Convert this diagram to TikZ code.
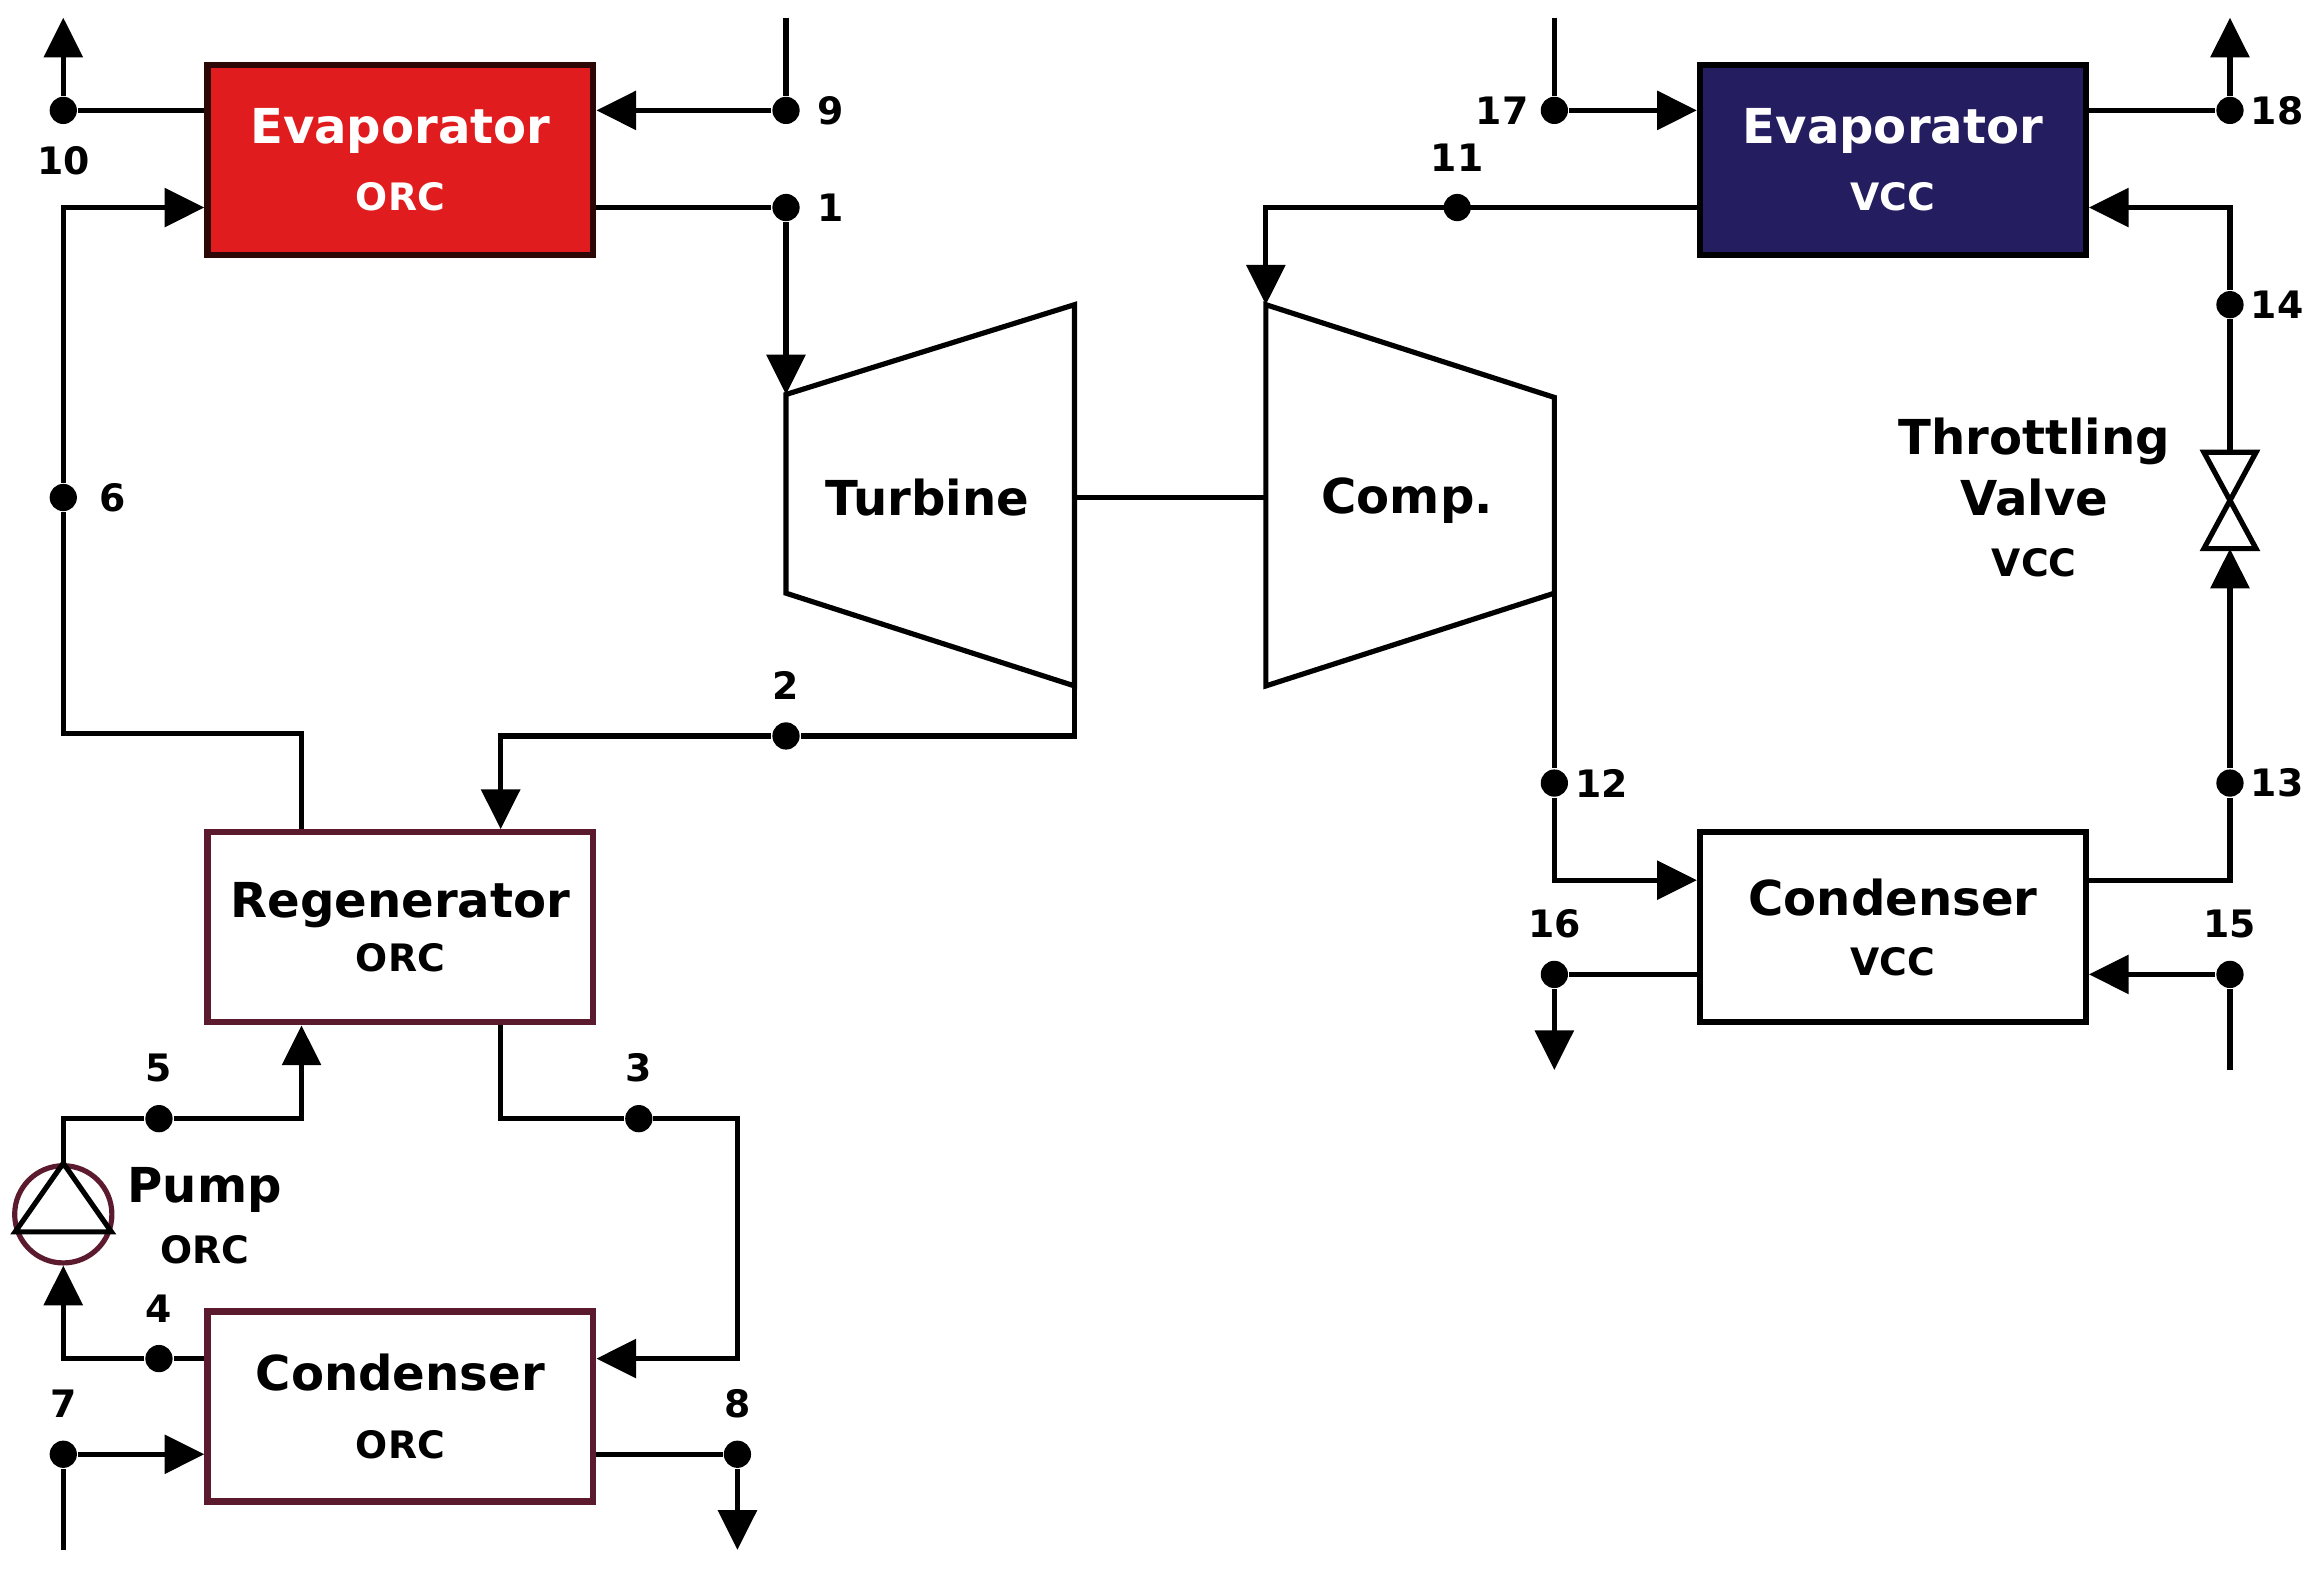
\documentclass[tikz,border=0pt]{standalone}
\usepackage{fontspec}
\setmainfont{DejaVu Sans}
\usetikzlibrary{arrows.meta}

\definecolor{orcred}{RGB}{224,28,30}
\definecolor{vccblue}{RGB}{36,29,96}
\definecolor{darkmaroon}{RGB}{92,26,46}

\tikzset{
  pipe/.style={line width=1pt},
  flow/.style={pipe,-{Triangle[length=2.7mm,width=2.6mm]}},
  unit/.style={draw,line width=1.2pt,minimum width=2.62cm,minimum height=1.29cm,
    inner sep=0pt,align=center,font=\bfseries\fontsize{9.3}{13}\selectfont},
  big/.style={align=center,font=\bfseries\fontsize{9.3}{11.8}\selectfont},
  dot/.style={circle,fill,inner sep=0pt,minimum size=1.85mm},
  num/.style={inner sep=1pt,font=\bfseries\fontsize{7.3}{8}\selectfont},
}
\newcommand{\subl}[1]{{\fontsize{7.3}{11.8}\selectfont #1}}

\begin{document}
\begin{tikzpicture}[x=0.01cm,y=-0.01cm]
    \useasboundingbox (0,0) rectangle (1568,1067);

    % units
    \node[unit,fill=orcred,text=white,draw=black!80!orcred] (evorc) at (272,108.5) {Evaporator\\\subl{ORC}};
    \node[unit,draw=darkmaroon] (regen) at (272,630) {Regenerator\\[-2.5pt]\subl{ORC}};
    \node[unit,draw=darkmaroon] (condorc) at (272,955.5) {Condenser\\\subl{ORC}};
    \node[unit,fill=vccblue,text=white] (evvcc) at (1286,108.5) {Evaporator\\\subl{VCC}};
    \node[unit] (condvcc) at (1286,630) {Condenser\\[-1.5pt]\subl{VCC}};

    \node[circle,draw=darkmaroon,line width=1pt,minimum size=6.6mm,inner sep=0pt] (pump) at (43,825) {};
    \draw[pipe] (pump.north) -- (pump.200) -- (pump.340) -- cycle;
    \node[big] (pumplbl) at (139,826) {Pump\\\subl{ORC}};

    \draw[pipe] (534,268) coordinate (tin) -- (730,207) -- (730,466) coordinate (tout) -- (534,403) -- cycle;
    \node[big] (turb) at (630,338) {Turbine};
    \draw[pipe] (860,207) coordinate (cin) -- (1056,270) -- (1056,403) coordinate (cout) -- (860,466) -- cycle;
    \node[big] (comp) at (956,340) {Comp.};
    \coordinate (tshaft) at (730,338);
    \coordinate (cshaft) at (860,338);
    \draw[pipe] (tshaft) -- (cshaft);

    \node[minimum width=3.4mm,minimum height=6.4mm,inner sep=0pt] (valve) at (1515,340) {};
    \draw[pipe] (valve.north west) -- (valve.north east) -- (valve.south west) -- (valve.south east) -- cycle;
    \node[big] (valvelbl) at (1382,338) {Throttling\\Valve\\\subl{VCC}};

    % state points
    \foreach \n/\x/\y/\pos/\d in {1/534/141/right/2pt, 2/534/500/above/3pt, 3/434/760/above/3pt,
        4/108/923/above/3pt, 5/108/760/above/3pt, 6/43/338/right/3pt, 7/43/988/above/3pt,
        8/501/988/above/3pt, 9/534/75/right/2pt, 10/43/75/below/3pt, 11/990/141/above/3pt,
        12/1056/532/right/0pt, 13/1515/532/right/0pt, 14/1515/207/right/0pt, 15/1515/662/above/3pt,
        16/1056/662/above/3pt, 17/1056/75/left/1pt, 18/1515/75/right/0pt}
        \node[dot,label={[num,label distance=\d]\pos:\n}] (p\n) at (\x,\y) {};

    % free ends
    \coordinate (out10) at (43,12);
    \coordinate (in9) at (534,12);
    \coordinate (in7) at (43,1053);
    \coordinate (out8) at (501,1053);
    \coordinate (in17) at (1056,12);
    \coordinate (out18) at (1515,12);
    \coordinate (out16) at (1056,727);
    \coordinate (in15) at (1515,727);

    % ORC
    \draw[pipe] (p10 -| evorc.west) -- (p10);
    \draw[flow] (p10) -- (out10);
    \draw[pipe] (in9) -- (p9);
    \draw[flow] (p9) -- (p9 -| evorc.east);
    \draw[pipe] (evorc.east |- p1) -- (p1);
    \draw[flow] (p1) -- (tin);
    \draw[pipe] (tout) |- (p2);
    \draw[flow] (p2) -| ([xshift=-0.65cm]regen.north east);
    \draw[pipe] ([xshift=0.66cm]regen.north west) -- ++(0,-65) -| (p6);
    \draw[flow] (p6) |- (evorc.west |- p1);
    \draw[pipe] ([xshift=-0.65cm]regen.south east) |- (p3);
    \draw[flow] (p3) -- (p3 -| p8) -- (p8 |- p4) -- (condorc.east |- p4);
    \draw[pipe] (condorc.west |- p4) -- (p4);
    \draw[flow] (p4) -| (pump.south);
    \draw[pipe] (pump.north) |- (p5);
    \draw[flow] (p5) -| ([xshift=0.66cm]regen.south west);
    \draw[pipe] (in7) -- (p7);
    \draw[flow] (p7) -- (p7 -| condorc.west);
    \draw[pipe] (p8 -| condorc.east) -- (p8);
    \draw[flow] (p8) -- (out8);

    % VCC
    \draw[pipe] (in17) -- (p17);
    \draw[flow] (p17) -- (p17 -| evvcc.west);
    \draw[pipe] (p18 -| evvcc.east) -- (p18);
    \draw[flow] (p18) -- (out18);
    \draw[flow] (evvcc.west |- p11) -| (cin);
    \draw[pipe] (cout) -- (p12);
    \draw[flow] (p12) |- ([yshift=0.32cm]condvcc.west);
    \draw[pipe] ([yshift=0.32cm]condvcc.east) -| (p13);
    \draw[flow] (p13) -- (valve.south);
    \draw[pipe] (valve.north) -- (p14);
    \draw[flow] (p14) |- (evvcc.east |- p11);
    \draw[pipe] (condvcc.west |- p16) -- (p16);
    \draw[flow] (p16) -- (out16);
    \draw[pipe] (in15) -- (p15);
    \draw[flow] (p15) -- (p15 -| condvcc.east);
\end{tikzpicture}
\end{document}
